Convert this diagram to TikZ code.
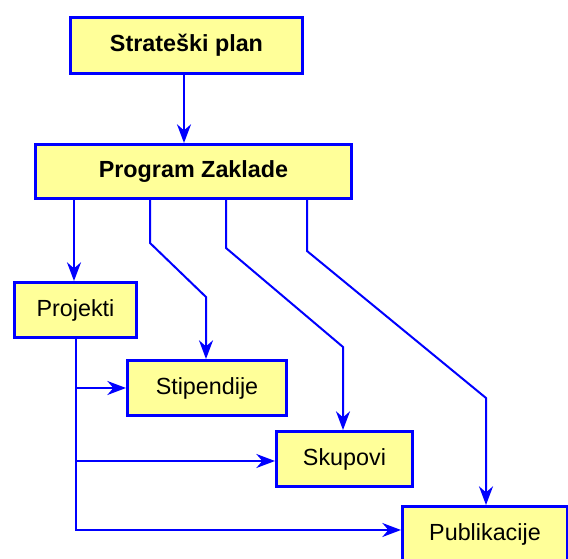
\documentclass[tikz,border=0pt]{standalone}
\usepackage{fontspec}
\setmainfont{Liberation Sans}
\usetikzlibrary{arrows.meta}
\usetikzlibrary{positioning}
\definecolor{boxfill}{RGB}{255,255,153}
\definecolor{boxline}{RGB}{0,0,255}
\tikzstyle{blok} = [rectangle,fill=boxfill,draw=boxline,line width=2.25pt,
inner sep=0pt, minimum height=41.25pt, font=\fontsize{17.5}{20}\selectfont]
\tikzstyle{glavni} = [blok, font=\fontsize{17.5}{20}\selectfont\bfseries]
\tikzstyle{veza} = [draw=boxline, line width=1.5pt, ->]
\tikzset{>={Stealth[length=14pt,width=10.5pt,inset=4.5pt]}}
\newcommand{\grana}[2]{ %
  % from the Projekti line to the left side of a box
  \draw[veza] (76,#1) -- (#2.west |- 0,#1);
}

\begin{document}
\begin{tikzpicture}[x=0.75pt,y=-0.75pt]
  \clip (0,0) rectangle (568,559);

  \node[glavni, minimum width=174pt, minimum height=42pt] (plan) at (186.5,45.5) {Strateški plan};
  \node[glavni, minimum width=237pt, minimum height=40.5pt] (program) at (193.5,171.5) {Program Zaklade};
  \node[blok, minimum width=91.5pt] (projekti) at (75.5,310) {Projekti};
  \node[blok, minimum width=119.25pt] (stipendije) at (207,388) {Stipendije};
  \node[blok, minimum width=102pt] (skupovi) at (344.5,459) {Skupovi};
  \node[blok, minimum width=123.75pt] (publikacije) at (485,534) {Publikacije};

  \draw[veza] (plan.south -| 184,0) -- (program.north -| 184,0);
  \draw[veza] (program.south -| 74,0) -- (projekti.north -| 74,0);
  \draw[veza] (program.south -| 150,0) -- (150,243) -- (206,297) -- (stipendije.north -| 206,0);
  \draw[veza] (program.south -| 226,0) -- (226,248) -- (343,347) -- (skupovi.north -| 343,0);
  \draw[veza] (program.south -| 307,0) -- (307,251) -- (486,398) -- (publikacije.north -| 486,0);

  \draw[veza] (projekti.south -| 76,0) |- (publikacije.west |- 0,530);
  \grana{388}{stipendije}
  \grana{461}{skupovi}
\end{tikzpicture}
\end{document}
